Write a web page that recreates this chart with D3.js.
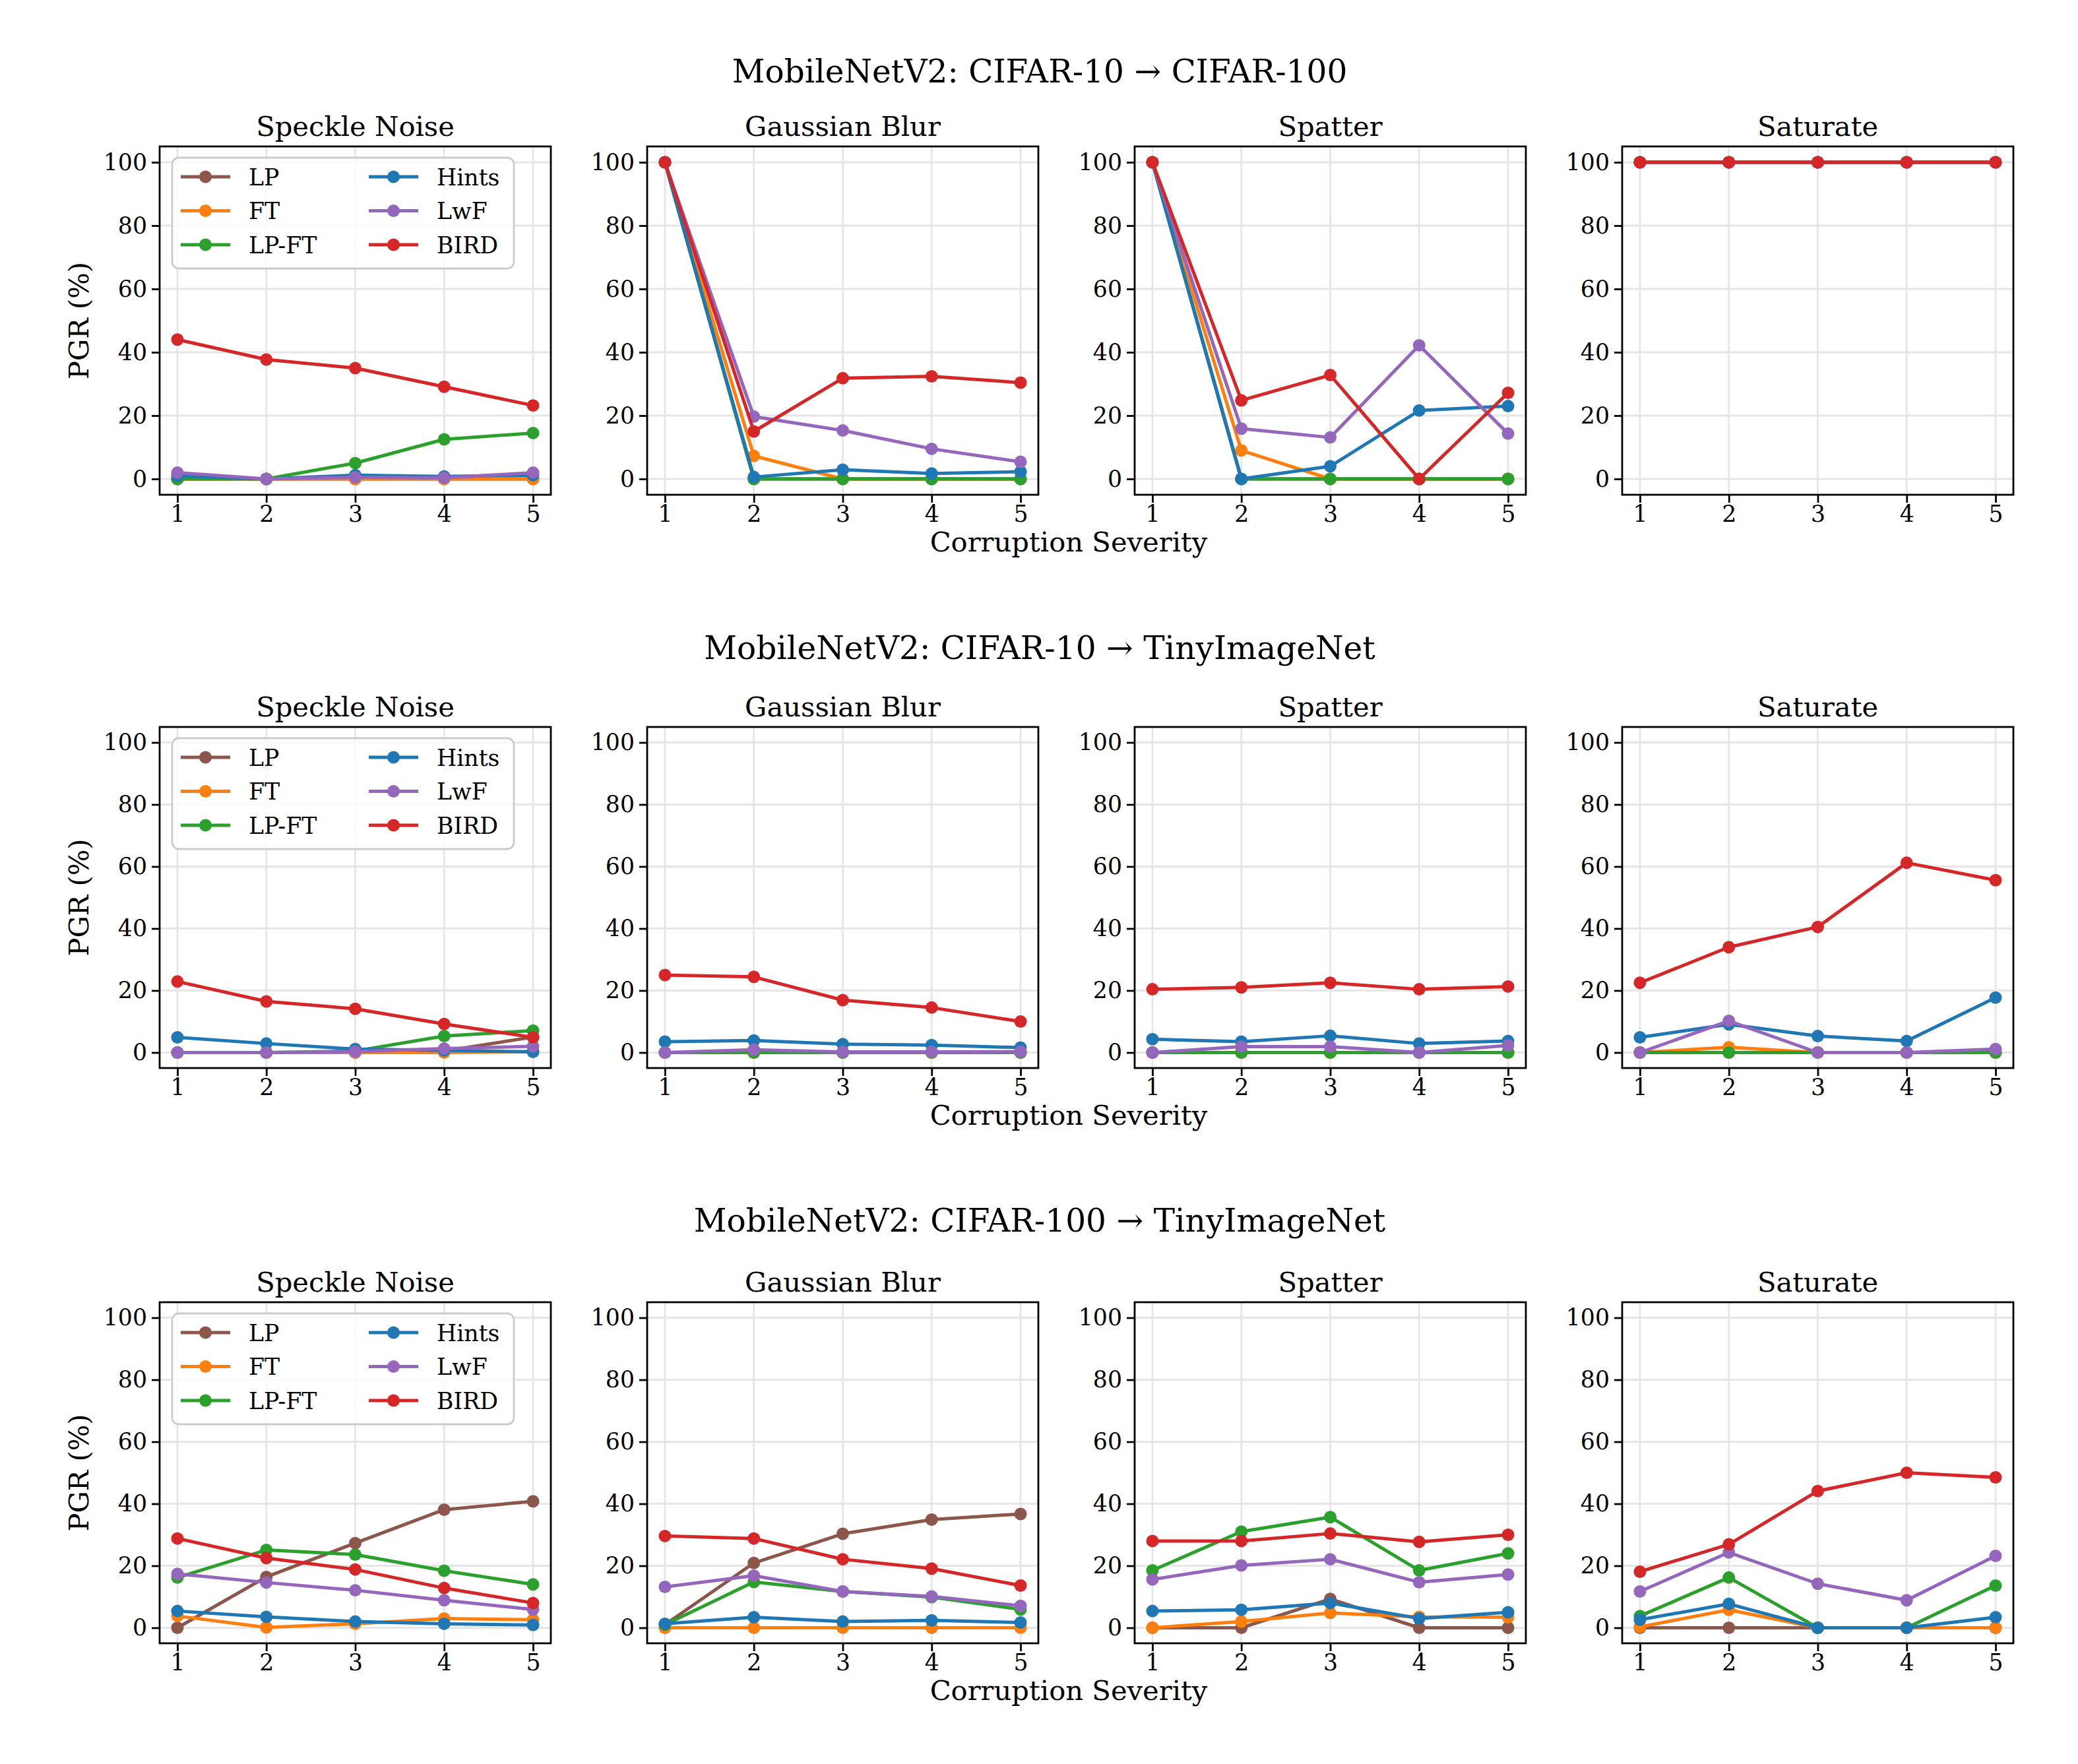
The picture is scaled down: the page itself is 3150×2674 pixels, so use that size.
<!DOCTYPE html>
<html>
<head>
<meta charset="utf-8">
<script src="https://cdn.jsdelivr.net/npm/d3@7"></script>
<style>
	body { margin: 0; background: #fff; }
	text { font-family: "DejaVu Serif", serif; fill: #000; }
</style>
</head>
<body>
<svg id="fig" width="3150" height="2674"></svg>
<script>
// ---- data (PGR %, severities 1..5) ----
const severities = [1, 2, 3, 4, 5]
const yTicks = [0, 20, 40, 60, 80, 100]
const methods = ["LP", "FT", "LP-FT", "Hints", "LwF", "BIRD"]
const colors = ["#8c564b", "#ff7f0e", "#2ca02c", "#1f77b4", "#9467bd", "#d62728"]
const corruptions = ["Speckle Noise", "Gaussian Blur", "Spatter", "Saturate"]
const rowTitles = [
	"MobileNetV2: CIFAR-10 \u2192 CIFAR-100",
	"MobileNetV2: CIFAR-10 \u2192 TinyImageNet",
	"MobileNetV2: CIFAR-100 \u2192 TinyImageNet"
]

// rows in each panel follow `methods` order
const c10c100Speckle = [
	[0, 0, 0, 0, 0], [0, 0, 0, 0, 0], [0, 0, 5.0, 12.5, 14.5],
	[1.0, 0, 1.2, 0.8, 1.2], [2.0, 0, 0.5, 0.3, 2.0], [44.0, 37.7, 35.0, 29.1, 23.2]]
const c10c100Blur = [
	[100, 0, 0, 0, 0], [100, 7.3, 0, 0, 0], [100, 0, 0, 0, 0],
	[100, 0.6, 2.9, 1.7, 2.3], [100, 19.7, 15.3, 9.5, 5.4], [100, 15.0, 31.8, 32.4, 30.4]]
const c10c100Spatter = [
	[100, 0, 0, 0, 0], [100, 9.0, 0, 0, 0], [100, 0, 0, 0, 0],
	[100, 0, 4.0, 21.6, 23.0], [100, 15.9, 13.1, 42.2, 14.3], [100, 24.8, 32.8, 0, 27.2]]
const c10c100Saturate = [
	[100, 100, 100, 100, 100], [100, 100, 100, 100, 100], [100, 100, 100, 100, 100],
	[100, 100, 100, 100, 100], [100, 100, 100, 100, 100], [100, 100, 100, 100, 100]]

const c10tinySpeckle = [
	[0, 0, 0, 0.5, 5.0], [0, 0, 0, 0, 0.3], [0, 0, 0.5, 5.3, 7.1],
	[4.9, 2.9, 1.1, 0.7, 0.2], [0, 0, 0.3, 1.3, 2.0], [22.9, 16.5, 14.1, 9.2, 4.9]]
const c10tinyBlur = [
	[0, 0, 0, 0, 0], [0, 0, 0, 0, 0], [0, 0, 0, 0, 0],
	[3.5, 3.9, 2.7, 2.4, 1.6], [0, 0.9, 0.2, 0.2, 0.3], [25.0, 24.4, 16.9, 14.5, 10.0]]
const c10tinySpatter = [
	[0, 0, 0, 0, 0], [0, 0, 0, 0, 0], [0, 0, 0, 0, 0],
	[4.3, 3.5, 5.4, 2.9, 3.7], [0, 1.9, 1.9, 0, 2.3], [20.4, 21.0, 22.5, 20.4, 21.3]]
const c10tinySaturate = [
	[0, 0, 0, 0, 0], [0, 1.7, 0, 0, 0], [0, 0, 0, 0, 0],
	[4.9, 9.1, 5.3, 3.7, 17.7], [0, 10.2, 0, 0, 1.1], [22.5, 34.0, 40.5, 61.2, 55.6]]

const c100tinySpeckle = [
	[0, 16.4, 27.3, 38.1, 40.8], [3.8, 0.1, 1.3, 3.0, 2.6], [16.2, 25.1, 23.6, 18.4, 14.0],
	[5.4, 3.5, 2.0, 1.3, 0.9], [17.4, 14.6, 12.1, 8.9, 5.9], [28.8, 22.5, 18.8, 12.8, 8.0]]
const c100tinyBlur = [
	[1.0, 20.9, 30.3, 34.9, 36.7], [0, 0, 0, 0, 0], [1.0, 14.8, 11.7, 9.9, 5.9],
	[1.3, 3.4, 2.0, 2.4, 1.7], [13.2, 16.8, 11.7, 10.1, 7.1], [29.6, 28.8, 22.1, 19.1, 13.6]]
const c100tinySpatter = [
	[0, 0, 9.3, 0, 0], [0, 2.0, 4.8, 3.5, 3.4], [18.5, 31.0, 35.7, 18.5, 24.0],
	[5.4, 5.8, 8.0, 3.0, 5.0], [15.6, 20.1, 22.1, 14.7, 17.2], [28.0, 28.0, 30.4, 27.7, 30.0]]
const c100tinySaturate = [
	[0, 0, 0, 0, 0], [0.3, 5.8, 0, 0, 0], [3.8, 16.2, 0, 0, 13.6],
	[2.6, 7.7, 0, 0, 3.4], [11.7, 24.3, 14.2, 8.9, 23.2], [18.1, 26.9, 44.1, 50.0, 48.5]]

const panels = [
	[c10c100Speckle, c10c100Blur, c10c100Spatter, c10c100Saturate],
	[c10tinySpeckle, c10tinyBlur, c10tinySpatter, c10tinySaturate],
	[c100tinySpeckle, c100tinyBlur, c100tinySpatter, c100tinySaturate]
]

// ---- layout ----
const colLeft = [242, 981, 1720, 2459],
	rowTop = [222, 1102, 1974],
	rowH = [528, 517, 517],
	rowTitleY = [125, 999, 1867],
	axW = 593,
	fs = 34.7, fsLarge = 41.7, fsTitle = 48.6

const svg = d3.select("#fig")
svg.append("rect").attr("width", 3150).attr("height", 2674).attr("fill", "#fff")

const x = d3.scaleLinear().domain([0.8, 5.2]).range([0, axW])

function drawLegend(g){
	const lg = g.append("g").attr("transform", "translate(19,17)")
	lg.append("rect").attr("width", 518).attr("height", 168)
		.attr("rx", 10).attr("ry", 10)
		.attr("fill", "#fff").attr("fill-opacity", 0.8)
		.attr("stroke", "#cccccc").attr("stroke-width", 2.8)
	methods.forEach((m, i) => {
		const col = Math.floor(i / 3), row = i % 3,
		hx = col ? 298 : 13, ty = 29 + row * 51.5
		const e = lg.append("g")
		e.append("line").attr("x1", hx).attr("x2", hx + 75).attr("y1", ty).attr("y2", ty)
			.attr("stroke", colors[i]).attr("stroke-width", 5)
		e.append("circle").attr("cx", hx + 37.5).attr("cy", ty).attr("r", 9.5).attr("fill", colors[i])
		e.append("text").attr("x", hx + 103).attr("y", ty + 12.5)
			.attr("font-size", fs).text(m)
	})
}

panels.forEach((rowPanels, r) => {
	const axH = rowH[r]
	const y = d3.scaleLinear().domain([-5, 105]).range([axH, 0])
	const line = d3.line().x((d, i) => x(severities[i])).y(d => y(d))

	svg.append("text")
		.attr("x", 1576).attr("y", rowTitleY[r])
		.attr("text-anchor", "middle").attr("font-size", fsTitle)
		.text(rowTitles[r])

	rowPanels.forEach((vals, c) => {
		const g = svg.append("g").attr("transform", `translate(${colLeft[c]},${rowTop[r]})`)

		// grid
		g.append("g").selectAll("line").data(yTicks).enter().append("line")
			.attr("x1", 0).attr("x2", axW).attr("y1", d => y(d)).attr("y2", d => y(d))
			.attr("stroke", "#e6e6e6").attr("stroke-width", 2.8)
		g.append("g").selectAll("line").data(severities).enter().append("line")
			.attr("y1", 0).attr("y2", axH).attr("x1", d => x(d)).attr("x2", d => x(d))
			.attr("stroke", "#e6e6e6").attr("stroke-width", 2.8)

		// series
		vals.forEach((s, i) => {
			const sg = g.append("g")
			sg.append("path").datum(s).attr("d", line)
				.attr("fill", "none").attr("stroke", colors[i])
				.attr("stroke-width", 5).attr("stroke-linejoin", "round")
			sg.selectAll("circle").data(s).enter().append("circle")
				.attr("cx", (d, j) => x(severities[j])).attr("cy", d => y(d))
				.attr("r", 9.5).attr("fill", colors[i])
		})

		// axes
		const xa = g.append("g").attr("transform", `translate(0,${axH})`)
			.call(d3.axisBottom(x).tickValues(severities).tickSize(12).tickPadding(4).tickFormat(d3.format("d")))
		const ya = g.append("g")
			.call(d3.axisLeft(y).tickValues(yTicks).tickSize(12).tickPadding(7).tickFormat(d3.format("d")))
		;[xa, ya].forEach(a => {
			a.select(".domain").remove()
			a.selectAll(".tick line").attr("stroke", "#000").attr("stroke-width", 2.8)
			a.selectAll(".tick text").attr("font-size", fs).attr("font-family", "DejaVu Serif").attr("fill", "#000")
		})

		// frame
		g.append("rect").attr("width", axW).attr("height", axH)
			.attr("fill", "none").attr("stroke", "#000").attr("stroke-width", 2.8)

		// subplot title
		g.append("text").attr("x", axW / 2).attr("y", -16)
			.attr("text-anchor", "middle").attr("font-size", fsLarge)
			.text(corruptions[c])

		if(c === 0){
			drawLegend(g)
			g.append("text")
				.attr("transform", `translate(-108,${axH / 2}) rotate(-90)`)
				.attr("text-anchor", "middle").attr("font-size", fsLarge)
				.text("PGR (%)")
		}
	})

	svg.append("text")
		.attr("x", 1620).attr("y", rowTop[r] + axH + 86)
		.attr("text-anchor", "middle").attr("font-size", fsLarge)
		.text("Corruption Severity")
})
</script>
</body>
</html>
